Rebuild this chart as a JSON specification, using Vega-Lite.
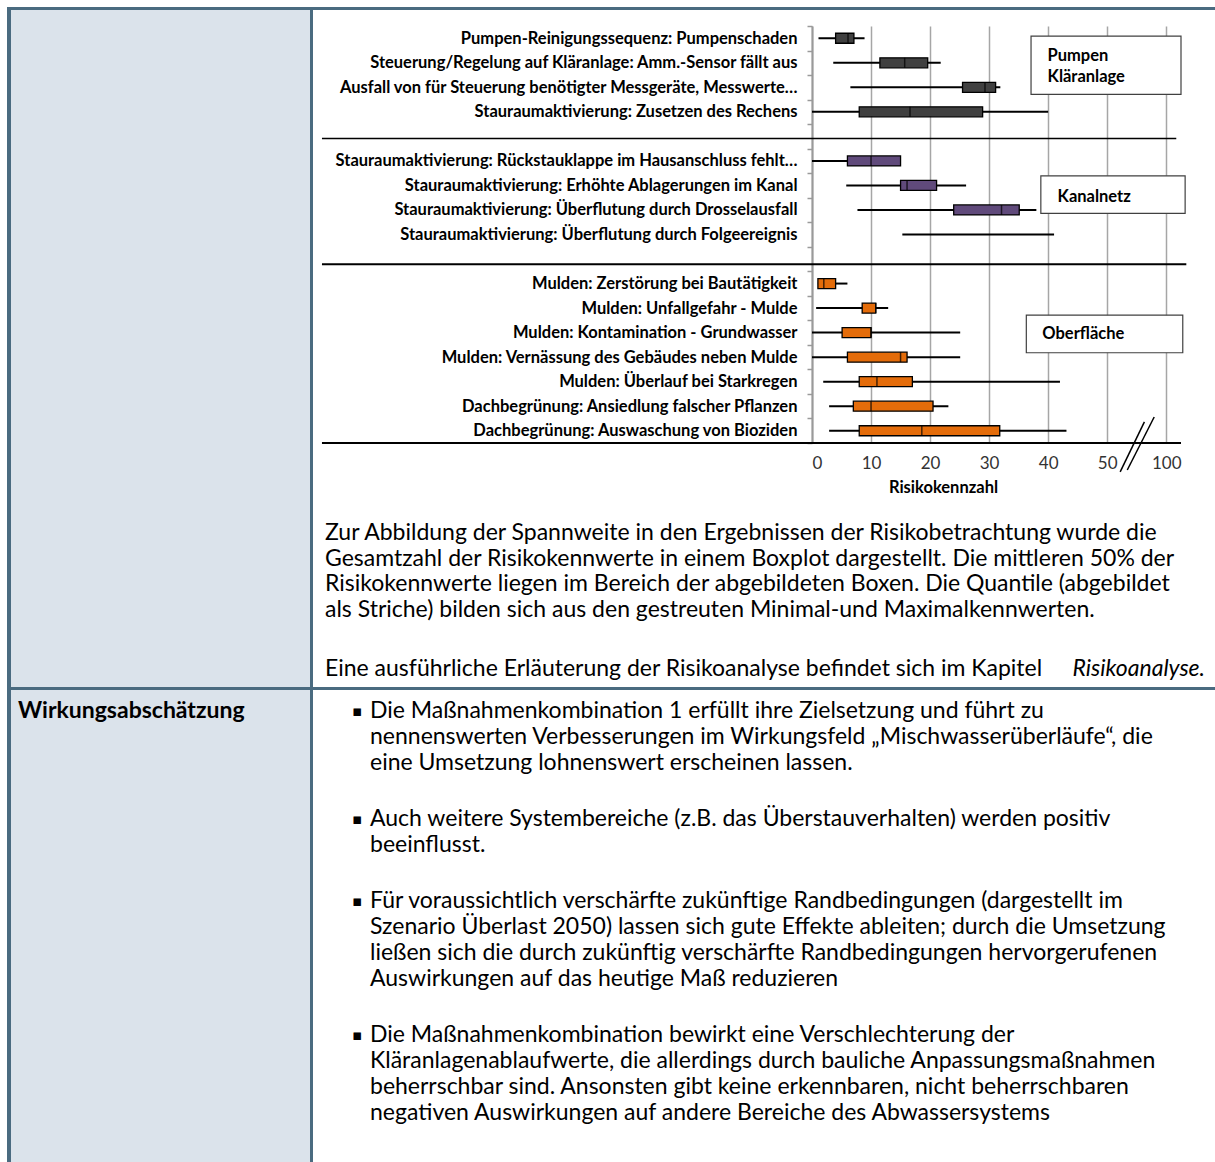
{
"$schema": "https://vega.github.io/schema/vega-lite/v6.json",
"padding": {"left": 7, "top": 7, "right": 0, "bottom": 0},
"background": "white",
"config": {"view": {"stroke": null}, "font": "Lato"},
"spacing": 0,
"vconcat": [
{"width": 1208, "height": 3, "data": {"values": []}, "mark": "point", "view": {"fill": "#4a6b80"}},
{"spacing": 0, "hconcat": [
  {"width": 4, "height": 677, "data": {"values": []}, "mark": "point", "view": {"fill": "#4a6b80"}},
  {"width": 299, "height": 677, "data": {"values": []}, "mark": "point", "view": {"fill": "#dbe3eb"}},
  {"width": 3, "height": 677, "data": {"values": []}, "mark": "point", "view": {"fill": "#4a6b80"}},
  {"spacing": 0, "vconcat": [
    {"width": 1, "height": 8, "data": {"values": []}, "mark": "point"},
    {"spacing": 0, "hconcat": [
      {"width": 7, "height": 1, "data": {"values": []}, "mark": "point"},
      {"width": 369, "height": 417,
       "layer": [
        {"data": {"values": [
          {"cat":"Pumpen-Reinigungssequenz: Pumpenschaden","group":"Pumpen Kläranlage","min":1.1,"q1":4.0,"median":6.1,"q3":7.1,"max":8.9},
          {"cat":"Steuerung/Regelung auf Kläranlage: Amm.-Sensor fällt aus","group":"Pumpen Kläranlage","min":3.6,"q1":11.5,"median":15.7,"q3":19.6,"max":21.8},
          {"cat":"Ausfall von für Steuerung benötigter Messgeräte, Messwerte…","group":"Pumpen Kläranlage","min":6.5,"q1":25.5,"median":29.3,"q3":31.1,"max":31.9},
          {"cat":"Stauraumaktivierung: Zusetzen des Rechens","group":"Pumpen Kläranlage","min":0,"q1":8.0,"median":16.6,"q3":28.9,"max":40.0},
          {"cat":"Stauraumaktivierung: Rückstauklappe im Hausanschluss fehlt…","group":"Kanalnetz","min":0,"q1":6.0,"median":10.0,"q3":15.0,"max":15.0},
          {"cat":"Stauraumaktivierung: Erhöhte Ablagerungen im Kanal","group":"Kanalnetz","min":5.8,"q1":15.0,"median":16.1,"q3":21.1,"max":26.1},
          {"cat":"Stauraumaktivierung: Überflutung durch Drosselausfall","group":"Kanalnetz","min":7.7,"q1":24.0,"median":32.1,"q3":35.1,"max":38.0},
          {"cat":"Stauraumaktivierung: Überflutung durch Folgeereignis","group":"Kanalnetz","min":15.3,"q1":null,"median":null,"q3":null,"max":41.0},
          {"cat":"Mulden: Zerstörung bei Bautätigkeit","group":"Oberfläche","min":1.0,"q1":1.0,"median":2.0,"q3":4.0,"max":6.0},
          {"cat":"Mulden: Unfallgefahr - Mulde","group":"Oberfläche","min":0.7,"q1":8.5,"median":10.8,"q3":10.8,"max":12.9},
          {"cat":"Mulden: Kontamination - Grundwasser","group":"Oberfläche","min":0,"q1":5.1,"median":10.0,"q3":10.0,"max":25.1},
          {"cat":"Mulden: Vernässung des Gebäudes neben Mulde","group":"Oberfläche","min":0,"q1":6.0,"median":15.0,"q3":16.1,"max":25.1},
          {"cat":"Mulden: Überlauf bei Starkregen","group":"Oberfläche","min":1.9,"q1":8.0,"median":11.0,"q3":17.0,"max":42.0},
          {"cat":"Dachbegrünung: Ansiedlung falscher Pflanzen","group":"Oberfläche","min":2.9,"q1":7.0,"median":10.0,"q3":20.5,"max":23.1},
          {"cat":"Dachbegrünung: Auswaschung von Bioziden","group":"Oberfläche","min":2.9,"q1":8.0,"median":18.6,"q3":31.8,"max":43.1}
         ]},
         "encoding": {"y": {"field": "cat", "type": "nominal",
           "scale": {"domain": ["Pumpen-Reinigungssequenz: Pumpenschaden","Steuerung/Regelung auf Kläranlage: Amm.-Sensor fällt aus","Ausfall von für Steuerung benötigter Messgeräte, Messwerte…","Stauraumaktivierung: Zusetzen des Rechens"," ","Stauraumaktivierung: Rückstauklappe im Hausanschluss fehlt…","Stauraumaktivierung: Erhöhte Ablagerungen im Kanal","Stauraumaktivierung: Überflutung durch Drosselausfall","Stauraumaktivierung: Überflutung durch Folgeereignis","  ","Mulden: Zerstörung bei Bautätigkeit","Mulden: Unfallgefahr - Mulde","Mulden: Kontamination - Grundwasser","Mulden: Vernässung des Gebäudes neben Mulde","Mulden: Überlauf bei Starkregen","Dachbegrünung: Ansiedlung falscher Pflanzen","Dachbegrünung: Auswaschung von Bioziden"], "paddingInner": 0, "paddingOuter": 0},
           "axis": {"title": null, "tickBand": "extent", "labelFont": "Lato", "labelFontWeight": "bold", "labelFontSize": 16.5, "labelColor": "#000", "labelLimit": 700, "labelPadding": 10, "tickSize": 5, "tickColor": "#9a9a9a", "tickWidth": 1.5, "domainColor": "#9a9a9a", "domainWidth": 2, "grid": false}}},
         "layer": [
          {"mark": {"type": "rule", "color": "#000", "strokeWidth": 2},
           "encoding": {"x": {"field": "min", "type": "quantitative", "scale": {"domain": [0, 62.5], "nice": false, "zero": false},
              "axis": {"values": [0,10,20,30,40,50,60], "labelExpr": "datum.value == 60 ? '100' : datum.label", "grid": true, "gridColor": "#a6a6a6", "gridWidth": 1.5, "domain": false, "ticks": false, "labelFont": "Lato", "labelFontSize": 17, "labelColor": "#333", "labelPadding": 12, "title": "Risikokennzahl", "titleFont": "Lato", "titleFontSize": 16.5, "titleFontWeight": "bold", "titleColor": "#000", "titlePadding": 8, "titleX": 131, "titleAlign": "center"}},
             "x2": {"field": "max"}}},
          {"mark": {"type": "bar", "size": 10, "stroke": "#000", "strokeWidth": 1.3},
           "encoding": {"x": {"field": "q1", "type": "quantitative"}, "x2": {"field": "q3"},
             "color": {"field": "group", "type": "nominal", "scale": {"domain": ["Pumpen Kläranlage","Kanalnetz","Oberfläche"], "range": ["#404040","#604a7b","#e46c0a"]}, "legend": null}}},
          {"mark": {"type": "tick", "size": 10, "thickness": 1.5, "color": "#000"},
           "encoding": {"x": {"field": "median", "type": "quantitative"}}}
         ]},
        {"data": {"values": [{}]},
         "layer": [
          {"mark": {"type": "rule", "color": "#000", "strokeWidth": 1.5}, "encoding": {"x": {"datum": -83}, "x2": {"datum": 61.7}, "y": {"datum": 4.59, "type": "quantitative", "scale": {"domain": [0, 17], "reverse": true, "nice": false, "zero": false}, "axis": null}}},
          {"mark": {"type": "rule", "color": "#000", "strokeWidth": 2}, "encoding": {"x": {"datum": -83}, "x2": {"datum": 63.4}, "y": {"datum": 9.71, "type": "quantitative"}}},
          {"mark": {"type": "rule", "color": "#000", "strokeWidth": 2}, "encoding": {"x": {"datum": -83}, "x2": {"datum": 62.5}, "y": {"datum": 17, "type": "quantitative"}}},
          {"mark": {"type": "rule", "color": "#000", "strokeWidth": 1.5}, "encoding": {"x": {"datum": 52.2}, "x2": {"datum": 56.3}, "y": {"datum": 18.18, "type": "quantitative"}, "y2": {"datum": 16.14}}},
          {"mark": {"type": "rule", "color": "#000", "strokeWidth": 1.5}, "encoding": {"x": {"datum": 53.4}, "x2": {"datum": 57.96}, "y": {"datum": 18.1, "type": "quantitative"}, "y2": {"datum": 15.94}}},
          {"mark": {"type": "rect", "fill": "#fff", "stroke": "#404040", "strokeWidth": 1.2}, "encoding": {"x": {"datum": 37.1}, "x2": {"datum": 62.5}, "y": {"datum": 0.41, "type": "quantitative"}, "y2": {"datum": 2.79}}},
          {"mark": {"type": "rect", "fill": "#fff", "stroke": "#404040", "strokeWidth": 1.2}, "encoding": {"x": {"datum": 38.76}, "x2": {"datum": 63.2}, "y": {"datum": 6.11, "type": "quantitative"}, "y2": {"datum": 7.64}}},
          {"mark": {"type": "rect", "fill": "#fff", "stroke": "#404040", "strokeWidth": 1.2}, "encoding": {"x": {"datum": 36.3}, "x2": {"datum": 62.8}, "y": {"datum": 11.79, "type": "quantitative"}, "y2": {"datum": 13.32}}},
          {"mark": {"type": "text", "align": "left", "baseline": "middle", "font": "Lato", "fontWeight": "bold", "fontSize": 16.5, "color": "#000"}, "encoding": {"x": {"datum": 39.9}, "y": {"datum": 1.22, "type": "quantitative"}, "text": {"value": "Pumpen"}}},
          {"mark": {"type": "text", "align": "left", "baseline": "middle", "font": "Lato", "fontWeight": "bold", "fontSize": 16.5, "color": "#000"}, "encoding": {"x": {"datum": 39.9}, "y": {"datum": 2.08, "type": "quantitative"}, "text": {"value": "Kläranlage"}}},
          {"mark": {"type": "text", "align": "left", "baseline": "middle", "font": "Lato", "fontWeight": "bold", "fontSize": 16.5, "color": "#000"}, "encoding": {"x": {"datum": 41.6}, "y": {"datum": 6.97, "type": "quantitative"}, "text": {"value": "Kanalnetz"}}},
          {"mark": {"type": "text", "align": "left", "baseline": "middle", "font": "Lato", "fontWeight": "bold", "fontSize": 16.5, "color": "#000"}, "encoding": {"x": {"datum": 39.0}, "y": {"datum": 12.57, "type": "quantitative"}, "text": {"value": "Oberfläche"}}}
         ]}
       ],
       "resolve": {"scale": {"y": "independent"}}}
    ]},
    {"width": 1, "height": 24, "data": {"values": []}, "mark": "point"},
    {"width": 892, "height": {"step": 25.67},
     "data": {"values": [
       {"line": 1, "text": "Zur Abbildung der Spannweite in den Ergebnissen der Risikobetrachtung wurde die"},
       {"line": 2, "text": "Gesamtzahl der Risikokennwerte in einem Boxplot dargestellt. Die mittleren 50% der"},
       {"line": 3, "text": "Risikokennwerte liegen im Bereich der abgebildeten Boxen. Die Quantile (abgebildet"},
       {"line": 4, "text": "als Striche) bilden sich aus den gestreuten Minimal-und Maximalkennwerten."}]},
     "mark": {"type": "text", "align": "left", "baseline": "middle", "dx": 12, "font": "Lato", "fontSize": 23, "color": "#000"},
     "encoding": {"x": {"datum": 0, "type": "quantitative", "scale": {"domain": [0, 1]}, "axis": null},
       "y": {"field": "line", "type": "ordinal", "axis": null}, "text": {"field": "text"}}},
    {"width": 1, "height": 33, "data": {"values": []}, "mark": "point"},
    {"width": 892, "height": {"step": 25.67},
     "data": {"values": [{"line": 1, "text": "Eine ausführliche Erläuterung der Risikoanalyse befindet sich im Kapitel", "em": "Risikoanalyse."}]},
     "encoding": {"y": {"field": "line", "type": "ordinal", "axis": null}},
     "layer": [
       {"mark": {"type": "text", "align": "left", "baseline": "middle", "dx": 12, "font": "Lato", "fontSize": 23, "color": "#000"},
        "encoding": {"x": {"datum": 0, "type": "quantitative", "scale": {"domain": [0, 1]}, "axis": null}, "text": {"field": "text"}}},
       {"mark": {"type": "text", "align": "right", "baseline": "middle", "font": "Lato", "fontSize": 23, "fontStyle": "italic", "color": "#000"},
        "encoding": {"x": {"datum": 1, "type": "quantitative"}, "text": {"field": "em"}}}
     ]}
  ]}
]},
{"width": 1208, "height": 3, "data": {"values": []}, "mark": "point", "view": {"fill": "#4a6b80"}},
{"spacing": 0, "hconcat": [
  {"width": 4, "height": 472, "data": {"values": []}, "mark": "point", "view": {"fill": "#4a6b80"}},
  {"spacing": 0, "vconcat": [
    {"width": 299, "height": 8, "data": {"values": []}, "mark": "point", "view": {"fill": "#dbe3eb"}},
    {"width": 299, "height": 26, "data": {"values": [{"t": "Wirkungsabschätzung"}]}, "view": {"fill": "#dbe3eb"},
     "mark": {"type": "text", "align": "left", "baseline": "middle", "dx": 7, "font": "Lato", "fontSize": 23, "fontWeight": "bold", "color": "#000"},
     "encoding": {"x": {"datum": 0, "type": "quantitative", "scale": {"domain": [0, 1]}, "axis": null}, "text": {"field": "t"}}},
    {"width": 299, "height": 438, "data": {"values": []}, "mark": "point", "view": {"fill": "#dbe3eb"}}
  ]},
  {"width": 3, "height": 472, "data": {"values": []}, "mark": "point", "view": {"fill": "#4a6b80"}},
  {"spacing": 0, "vconcat": [
    {"width": 1, "height": 8, "data": {"values": []}, "mark": "point"},
    {"spacing": 30, "vconcat": [
      {"width": 892, "height": {"step": 26},
       "data": {"values": [
         {"line": 1, "bullet": "▪", "text": "Die Maßnahmenkombination 1 erfüllt ihre Zielsetzung und führt zu"},
         {"line": 2, "bullet": "", "text": "nennenswerten Verbesserungen im Wirkungsfeld „Mischwasserüberläufe“, die"},
         {"line": 3, "bullet": "", "text": "eine Umsetzung lohnenswert erscheinen lassen."}]},
       "encoding": {"y": {"field": "line", "type": "ordinal", "axis": null}, "x": {"datum": 0, "type": "quantitative", "scale": {"domain": [0, 1]}, "axis": null}},
       "layer": [
         {"mark": {"type": "text", "align": "left", "baseline": "middle", "dx": 39, "font": "DejaVu Sans", "fontSize": 15, "color": "#000"}, "encoding": {"text": {"field": "bullet"}}},
         {"mark": {"type": "text", "align": "left", "baseline": "middle", "dx": 57, "font": "Lato", "fontSize": 23, "color": "#000"}, "encoding": {"text": {"field": "text"}}}
       ]},
      {"width": 892, "height": {"step": 26},
       "data": {"values": [
         {"line": 1, "bullet": "▪", "text": "Auch weitere Systembereiche (z.B. das Überstauverhalten) werden positiv"},
         {"line": 2, "bullet": "", "text": "beeinflusst."}]},
       "encoding": {"y": {"field": "line", "type": "ordinal", "axis": null}, "x": {"datum": 0, "type": "quantitative", "scale": {"domain": [0, 1]}, "axis": null}},
       "layer": [
         {"mark": {"type": "text", "align": "left", "baseline": "middle", "dx": 39, "font": "DejaVu Sans", "fontSize": 15, "color": "#000"}, "encoding": {"text": {"field": "bullet"}}},
         {"mark": {"type": "text", "align": "left", "baseline": "middle", "dx": 57, "font": "Lato", "fontSize": 23, "color": "#000"}, "encoding": {"text": {"field": "text"}}}
       ]},
      {"width": 892, "height": {"step": 26},
       "data": {"values": [
         {"line": 1, "bullet": "▪", "text": "Für voraussichtlich verschärfte zukünftige Randbedingungen (dargestellt im"},
         {"line": 2, "bullet": "", "text": "Szenario Überlast 2050) lassen sich gute Effekte ableiten; durch die Umsetzung"},
         {"line": 3, "bullet": "", "text": "ließen sich die durch zukünftig verschärfte Randbedingungen hervorgerufenen"},
         {"line": 4, "bullet": "", "text": "Auswirkungen auf das heutige Maß reduzieren"}]},
       "encoding": {"y": {"field": "line", "type": "ordinal", "axis": null}, "x": {"datum": 0, "type": "quantitative", "scale": {"domain": [0, 1]}, "axis": null}},
       "layer": [
         {"mark": {"type": "text", "align": "left", "baseline": "middle", "dx": 39, "font": "DejaVu Sans", "fontSize": 15, "color": "#000"}, "encoding": {"text": {"field": "bullet"}}},
         {"mark": {"type": "text", "align": "left", "baseline": "middle", "dx": 57, "font": "Lato", "fontSize": 23, "color": "#000"}, "encoding": {"text": {"field": "text"}}}
       ]},
      {"width": 892, "height": {"step": 26},
       "data": {"values": [
         {"line": 1, "bullet": "▪", "text": "Die Maßnahmenkombination bewirkt eine Verschlechterung der"},
         {"line": 2, "bullet": "", "text": "Kläranlagenablaufwerte, die allerdings durch bauliche Anpassungsmaßnahmen"},
         {"line": 3, "bullet": "", "text": "beherrschbar sind. Ansonsten gibt keine erkennbaren, nicht beherrschbaren"},
         {"line": 4, "bullet": "", "text": "negativen Auswirkungen auf andere Bereiche des Abwassersystems"}]},
       "encoding": {"y": {"field": "line", "type": "ordinal", "axis": null}, "x": {"datum": 0, "type": "quantitative", "scale": {"domain": [0, 1]}, "axis": null}},
       "layer": [
         {"mark": {"type": "text", "align": "left", "baseline": "middle", "dx": 39, "font": "DejaVu Sans", "fontSize": 15, "color": "#000"}, "encoding": {"text": {"field": "bullet"}}},
         {"mark": {"type": "text", "align": "left", "baseline": "middle", "dx": 57, "font": "Lato", "fontSize": 23, "color": "#000"}, "encoding": {"text": {"field": "text"}}}
       ]}
    ]}
  ]}
]}
]
}
